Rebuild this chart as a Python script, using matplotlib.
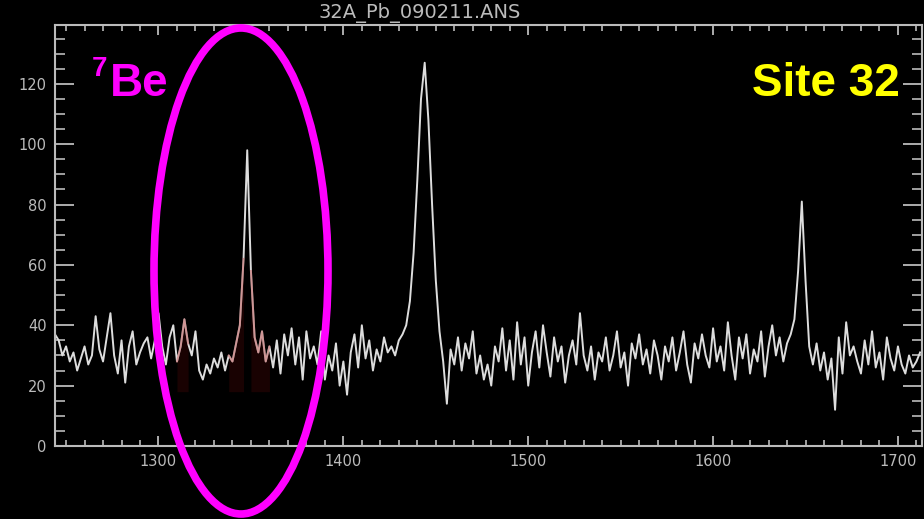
import numpy as np
import matplotlib.pyplot as plt
from matplotlib.patches import Ellipse
from matplotlib.ticker import MultipleLocator

# gamma spectrum, one value every 2 keV starting at 1244 keV
start_energy = 1244
step = 2
counts = [
    37, 35, 30, 33, 28, 31, 25, 29, 33, 27,
    30, 43, 32, 28, 36, 44, 30, 24, 35, 21,
    33, 38, 27, 31, 34, 36, 29, 35, 44, 33,
    27, 36, 40, 28, 33, 42, 34, 30, 38, 25,
    22, 27, 24, 29, 26, 31, 25, 30, 28, 34,
    40, 62, 98, 58, 36, 31, 38, 28, 33, 26,
    35, 24, 37, 30, 39, 27, 36, 22, 38, 29,
    33, 27, 38, 22, 30, 25, 34, 20, 28, 17,
    31, 37, 26, 40, 29, 35, 25, 32, 28, 36,
    31, 33, 30, 35, 37, 40, 48, 64, 88, 115,
    127, 108, 80, 55, 38, 28, 14, 32, 27, 36,
    25, 34, 29, 38, 24, 30, 22, 27, 20, 33,
    28, 39, 25, 35, 22, 41, 27, 36, 20, 31,
    38, 26, 40, 31, 23, 36, 28, 33, 21, 30,
    35, 27, 44, 30, 25, 33, 22, 31, 28, 36,
    25, 30, 38, 26, 31, 20, 34, 29, 37, 27,
    32, 24, 35, 30, 22, 33, 28, 36, 25, 31,
    38, 27, 21, 34, 29, 37, 30, 26, 39, 28,
    33, 25, 41, 30, 22, 36, 29, 37, 24, 32,
    28, 38, 23, 33, 40, 30, 36, 28, 34, 37,
    42, 58, 81, 55, 33, 27, 34, 25, 31, 22,
    29, 12, 36, 24, 41, 30, 33, 28, 24, 35,
    27, 38, 26, 31, 22, 36, 29, 25, 33, 27,
    24, 30, 26, 28, 31,
]
energy = start_energy + step * np.arange(len(counts))
counts = np.array(counts)

# bits of the baseline the analysis software marked in red
red_regions = [(1310, 1316), (1338, 1346), (1350, 1360)]

title = "32A_Pb_090211.ANS"
x_major = 100
y_major = 20

fig = plt.figure(figsize=(9.24, 5.19), dpi=100, facecolor="black")
ax = fig.add_axes([0.0595, 0.1407, 0.9383, 0.8111], facecolor="black")

for lo, hi in red_regions:
    m = (energy >= lo) & (energy <= hi)
    ax.fill_between(energy[m], 18, counts[m], color="#4a0808", alpha=0.35, lw=0)
ax.plot(energy, counts, color="#dddddd", lw=1.4)
for lo, hi in red_regions:
    m = (energy >= lo) & (energy <= hi)
    ax.plot(energy[m], counts[m], color="#c04040", lw=1.4, alpha=0.45)

ax.set_xlim(1244, 1713)
ax.set_ylim(0, 139.5)
ax.xaxis.set_major_locator(MultipleLocator(x_major))
ax.xaxis.set_minor_locator(MultipleLocator(10))
ax.yaxis.set_major_locator(MultipleLocator(y_major))
ax.yaxis.set_minor_locator(MultipleLocator(5))

gray = "#bbbbbb"
for s in ax.spines.values():
    s.set_color(gray)
    s.set_linewidth(1.5)
ax.tick_params(axis="both", which="both", direction="in", colors=gray,
               top=True, right=True, labelsize=10.5)
ax.tick_params(axis="y", which="major", length=14, width=1.3, pad=6)
ax.tick_params(axis="y", which="minor", length=7, width=1.2)
ax.tick_params(axis="x", which="major", length=7, width=1.3, pad=6)
ax.tick_params(axis="x", which="minor", length=4, width=1.2)

fig.text(420 / 924, 1 - 13 / 519, title, color=gray, fontsize=14,
         ha="center", va="center")

# annotations drawn on top of the chart
ell = Ellipse((241 / 924, 1 - 271 / 519), 174 / 924, 486 / 519,
              transform=fig.transFigure, fill=False, edgecolor="#ff00ff",
              lw=5.5, clip_on=False)
fig.add_artist(ell)

fig.text(110 / 924, 1 - 96 / 519, "Be", color="#ff00ff", fontsize=33,
         fontweight="bold", family="Liberation Sans", va="baseline")
fig.text(92 / 924, 1 - 76 / 519, "7", color="#ff00ff", fontsize=20,
         fontweight="bold", family="Liberation Sans", va="baseline")
fig.text(900 / 924, 1 - 96 / 519, "Site 32", color="#ffff00", fontsize=33,
         fontweight="bold", family="Liberation Sans", va="baseline", ha="right")

fig.savefig("out.png", dpi=100, facecolor="black")
